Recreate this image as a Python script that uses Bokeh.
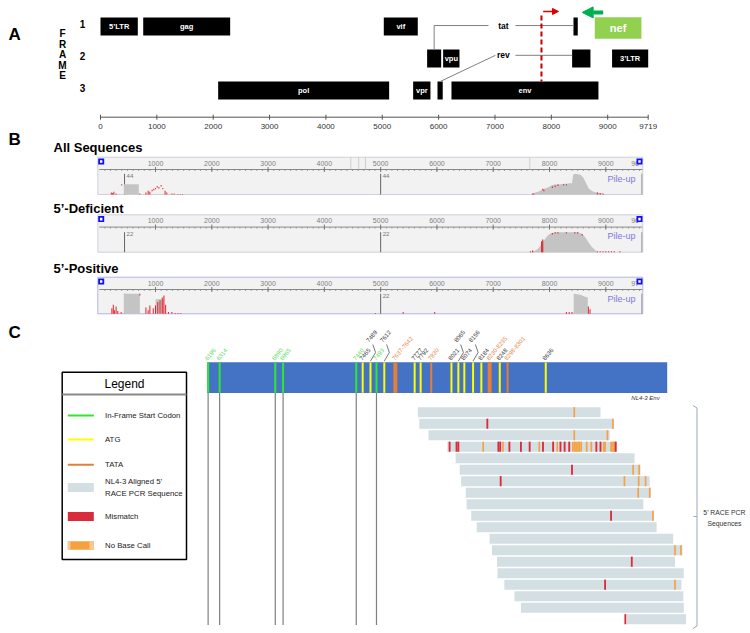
import math
from bokeh.plotting import figure
from bokeh.models import Range1d, Arrow, NormalHead
from bokeh.core.properties import value
from bokeh.embed import file_html
from bokeh.resources import INLINE

# ---------------- DATA ----------------
# Panel A: HIV-1 NL4-3 genome map (nt positions, reading frame)
gene_names = ["5’LTR", "gag", "vif", "pol", "vpr", "tat-1", "rev-1", "vpu", "env", "tat-2", "rev-2", "nef", "3’LTR"]
gene_text = ["5’LTR", "gag", "vif", "pol", "vpr", "", "", "vpu", "env", "", "", "nef", "3’LTR"]
gene_start = [0, 758, 5027, 2088, 5548, 5796, 5980, 6080, 6228, 8393, 8369, 8771, 9078]
gene_end = [662, 2301, 5630, 5122, 5855, 6045, 6073, 6370, 8836, 8469, 8694, 9599, 9719]
gene_frame = [1, 1, 1, 3, 3, 2, 3, 2, 3, 1, 2, 1, 2]
frames = [1, 2, 3]
genome_ticks = [0, 1000, 2000, 3000, 4000, 5000, 6000, 7000, 8000, 9000, 9719]
cut_site = 7825
fwd_primer = (7855, 8127)
rev_primer = (8920, 8547)

# Panel B: pile-up coverage (nt, depth)
ruler_ticks = [1000, 2000, 3000, 4000, 5000, 6000, 7000, 8000, 9000]
track_titles = ["All  Sequences", "5’-Deficient", "5’-Positive"]
track_max = [44, 22, 22]
track_end_label = ["96", "96", "97"]
cov_all_x = [437, 437, 703, 703]
cov_all_y = [0, 22, 22, 0]
cov_all_x2 = [7650, 7700, 7750, 7800, 7850, 7900, 7950, 8000, 8050, 8100, 8150, 8200, 8250, 8300, 8350, 8400, 8420, 8450, 8500, 8550, 8600, 8650, 8700, 8750, 8800, 8850, 8900, 8950, 9000]
cov_all_y2 = [0, 2, 4, 6, 9, 12, 14, 17, 20, 21, 22, 22, 23, 23, 24, 24, 42, 44, 43, 42, 36, 24, 12, 8, 5, 4, 3, 2, 0]
red_all_x = [215, 235, 260, 300, 400, 720, 830, 870, 900, 940, 970, 1000, 1030, 1060, 1100, 1130, 1170, 1200, 1290, 1330, 1400, 1440, 1480, 7700, 7720, 7880, 7900, 8050, 8100, 8150, 8250, 8300, 8850, 8900, 8950]
red_all_h = [4, 3, 6, 2, 22, 2, 4, 8, 6, 10, 12, 14, 18, 16, 20, 14, 8, 4, 2, 2, 1, 1, 1, 2, 2, 12, 10, 17, 19, 21, 22, 22, 4, 3, 2]
cov_def_x = [7650, 7700, 7750, 7800, 7850, 7900, 7950, 8000, 8050, 8100, 8500, 8550, 8600, 8650, 8700, 8750, 8800, 8850]
cov_def_y = [0, 1, 2, 4, 8, 13, 17, 20, 21, 22, 22, 21, 19, 15, 10, 6, 3, 0]
red_def_x = [7660, 7700, 7860, 7880, 8050, 8100, 8150, 8300, 8450, 8500, 8580, 8850, 8900, 8950, 9000, 9050, 9100, 9150, 9250]
red_def_h = [1, 2, 12, 14, 21, 22, 22, 22, 22, 22, 20, 1, 1, 1, 1, 1, 1, 1, 1]
cov_pos_x = [437, 437, 722, 722, 1002, 1002, 1148, 1148]
cov_pos_y = [0, 22, 22, 0, 0, 16, 16, 0]
cov_pos_x2 = [8430, 8430, 8550, 8620, 8680, 8680]
cov_pos_y2 = [0, 22, 21, 19, 18, 0]
red_pos_x = [225, 250, 270, 300, 330, 390, 722, 830, 870, 900, 960, 1000, 1040, 1080, 1120, 1150, 1180, 1230, 1290, 1350, 1400, 1450, 4908, 5400, 5960, 8300, 8350, 8400, 8690, 8720]
red_pos_h = [6, 10, 4, 8, 3, 2, 22, 7, 4, 9, 6, 9, 13, 15, 18, 20, 10, 2, 2, 1, 1, 1, 1, 2, 2, 2, 2, 2, 8, 5]
depth_marks = [450, 5000]

# Panel C: Env schematic (position along the Env bar, % of bar length)
site_label = ["6196", "6314", "6890", "6965", "7440", "7465", "7489", "7493", "7612", "7637-7642", "7777",
              "7792", "7830", "8021", "8065", "8074", "8156", "8184", "8230-8235", "8248", "8298-8301", "8636"]
site_type = ["start", "start", "start", "start", "start", "ATG", "ATG", "start", "ATG", "TATA", "ATG",
             "ATG", "TATA", "ATG", "ATG", "ATG", "ATG", "ATG", "TATA", "ATG", "TATA", "ATG"]
site_pos = [0.2, 2.7, 14.8, 16.5, 32.4, 33.8, 35.5, 36.8, 38.5, 40.9, 45.1,
            46.4, 48.7, 53.1, 54.6, 55.9, 57.8, 59.6, 61.4, 63.6, 65.3, 73.6]
raised_labels = ["7489", "7612", "8065", "8156"]

seq_start = [45.8, 46.1, 48.1, 52.2, 54.0, 54.9, 55.2, 56.2, 56.4, 57.4, 58.6, 61.4, 61.9, 63.0, 63.1, 64.6, 66.8, 68.2, 91.2]
seq_end = [85.5, 88.4, 87.5, 89.1, 92.9, 94.2, 96.2, 96.4, 94.8, 97.1, 97.7, 101.3, 103.3, 101.7, 103.6, 103.1, 103.5, 103.6, 104.1]
mm_row = [2, 6, 7, 10, 14, 16, 19] + [4] * 16
mm_pos = [60.9, 79.3, 63.8, 87.8, 92.3, 86.5, 90.9,
          52.7, 54.2, 54.6, 63.3, 63.7, 65.7, 68.2, 70.1, 73.0, 75.2, 76.8, 77.7, 78.7, 84.6, 85.5, 88.8]
nc_row = [1, 2, 3, 3, 6, 6, 7, 7, 7, 8, 8, 10, 13, 13, 16] + [4] * 17
nc_pos = [79.8, 88.2, 79.8, 87.0, 92.6, 93.9, 90.7, 93.8, 95.3, 93.7, 96.2, 96.9, 101.7, 103.0, 101.7,
          60.0, 64.3, 72.2, 76.1, 79.5, 79.9, 80.2, 80.6, 80.9, 81.3, 82.5, 83.5, 86.2, 86.5, 87.8, 88.2, 88.5]
legend_labels = ["In-Frame Start Codon", "ATG", "TATA", "NL4-3 Aligned 5’\nRACE PCR Sequence", "Mismatch", "No Base Call"]

# ---------------- STYLE ----------------
FONT = value("Liberation Sans")
GREEN, YELLOW, ORANGE = "#2ee82e", "#ffff00", "#e67e36"
SEQ, RED, NOCALL = "#d3dfe2", "#d92b3a", "#f5a142"
TYPE_COLOR = {"start": GREEN, "ATG": YELLOW, "TATA": ORANGE}
LABEL_COLOR = {"start": "#5ad85a", "ATG": "#333333", "TATA": "#e08848"}

W, H = 750, 633
X0, Y0 = 0, 0
p = figure(width=W, height=H, output_backend="svg", toolbar_location=None,
           x_range=Range1d(X0, X0 + W), y_range=Range1d(Y0 + H, Y0),
           x_axis_type=None, y_axis_type=None, min_border=0)
p.grid.visible = False
p.outline_line_color = None

xr, yr = {}, {}
def xmap(name, v1, px1, v2, px2):
    k = (v2 - v1) / (px2 - px1)
    xr[name] = Range1d(v1 + (X0 - px1) * k, v1 + (X0 + W - px1) * k)
def ymap(name, v1, py1, v2, py2):
    k = (v2 - v1) / (py2 - py1)
    yr[name] = Range1d(v1 + (Y0 + H - py1) * k, v1 + (Y0 - py1) * k)

xmap("gA", 0, 100, 9719, 647.7)
ymap("fA", 1, 26, 3, 90)
xmap("gB", 1000, 155, 9000, 605.3)
track_top = [156.7, 214.3, 276.7]
track_bot = [194, 251.7, 313.3]
track_peak = [173.3, 231.7, 293.3]
for i in range(3):
    ymap(f"c{i}", 0, track_bot[i], track_max[i], track_peak[i])
xmap("pC", 0, 206.7, 100, 666.7)
ymap("rC", 1, 411.7, 19, 618.7)
p.extra_x_ranges = xr
p.extra_y_ranges = yr

def txt(x, y, t, size, color="black", style="normal", align="left", baseline="middle", **kw):
    p.text(x=[x], y=[y], text=[t], text_font=FONT, text_font_size=f"{size}px", text_color=color,
           text_font_style=style, text_align=align, text_baseline=baseline, **kw)

# ---------------- PANEL A ----------------
txt(8, 34, "A", 17, style="bold")
for i, ch in enumerate("FRAME"):
    txt(62, 33 + i * 10.5, ch, 10, style="bold", align="center")
p.text(x=[82] * 3, y=frames, text=[str(f) for f in frames], y_range_name="fA", y_offset=-3,
       text_font=FONT, text_font_size="10px", text_font_style="bold", text_align="center", text_baseline="middle")

reg = [i for i, g in enumerate(gene_names) if g != "nef"]
p.quad(left=[gene_start[i] for i in reg], right=[gene_end[i] for i in reg],
       top=[gene_frame[i] - 0.28 for i in reg], bottom=[gene_frame[i] + 0.28 for i in reg],
       x_range_name="gA", y_range_name="fA", fill_color="black", line_color=None)
inef = gene_names.index("nef")
p.quad(left=[gene_start[inef]], right=[gene_end[inef]], top=[gene_frame[inef] - 0.29],
       bottom=[gene_frame[inef] + 0.38], x_range_name="gA", y_range_name="fA",
       fill_color="#92d050", line_color=None)
lab = [i for i in reg if gene_text[i]]
p.text(x=[(gene_start[i] + gene_end[i]) / 2 for i in lab], y=[gene_frame[i] for i in lab],
       text=[gene_text[i] for i in lab], x_range_name="gA", y_range_name="fA",
       text_font=FONT, text_font_size="7.5px", text_font_style="bold", text_color="white",
       text_align="center", text_baseline="middle")
p.text(x=[(gene_start[inef] + gene_end[inef]) / 2], y=[gene_frame[inef] + 0.05], text=["nef"],
       x_range_name="gA", y_range_name="fA", text_font=FONT, text_font_size="11px",
       text_font_style="bold", text_color="white", text_align="center", text_baseline="middle")

# tat / rev connectors
t1, t2 = gene_names.index("tat-1"), gene_names.index("tat-2")
r1, r2 = gene_names.index("rev-1"), gene_names.index("rev-2")
lab_x = 7150
tat_y, rev_y = 0.97, 1.9
tx1 = (gene_start[t1] + gene_end[t1]) / 2
rx1 = (gene_start[r1] + gene_end[r1]) / 2
p.multi_line(xs=[[tx1, tx1, lab_x - 266], [lab_x + 213, gene_start[t2]],
                 [rx1, lab_x - 142], [lab_x + 213, gene_start[r2]]],
             ys=[[gene_frame[t1] - 0.28, tat_y, tat_y], [tat_y, tat_y],
                 [gene_frame[r1] - 0.28, rev_y], [rev_y, rev_y]],
             x_range_name="gA", y_range_name="fA", line_color="#808080", line_width=1)
p.text(x=[lab_x, lab_x], y=[tat_y, rev_y], text=["tat", "rev"], x_range_name="gA", y_range_name="fA",
       text_font=FONT, text_font_size="8.5px", text_font_style="bold", text_align="center",
       text_baseline="middle")
# cut site and primers
p.segment(x0=[cut_site], y0=[0.66], x1=[cut_site], y1=[3 - 0.28], x_range_name="gA", y_range_name="fA",
          line_color="#c00000", line_width=2, line_dash="5 3")
p.add_layout(Arrow(end=NormalHead(size=6, fill_color="#e00000", line_color="#e00000"),
                   x_start=fwd_primer[0], x_end=fwd_primer[1], y_start=0.53, y_end=0.53,
                   x_range_name="gA", y_range_name="fA", line_color="#e00000", line_width=1.5))
p.add_layout(Arrow(end=NormalHead(size=11, fill_color="#00b050", line_color="#00b050"),
                   x_start=rev_primer[0], x_end=rev_primer[1], y_start=0.56, y_end=0.56,
                   x_range_name="gA", y_range_name="fA", line_color="#00b050", line_width=4))
# genome axis
ay = 116.7
p.segment(x0=[genome_ticks[0]], y0=[ay], x1=[genome_ticks[-1]], y1=[ay], x_range_name="gA",
          line_color="#555555", line_width=1)
p.segment(x0=genome_ticks, y0=[ay - 2.5] * len(genome_ticks), x1=genome_ticks, y1=[ay + 2.5] * len(genome_ticks),
          x_range_name="gA", line_color="#555555", line_width=1)
p.text(x=genome_ticks, y=[ay + 9.5] * len(genome_ticks), text=[str(t) for t in genome_ticks],
       x_range_name="gA", text_font=FONT, text_font_size="8px", text_color="#333333",
       text_align="center", text_baseline="middle")

# ---------------- PANEL B ----------------
txt(8, 139, "B", 17, style="bold")
title_y = [146.7, 208, 267.7]
border = ["#d0d0dc", "#d0d0dc", "#b4b4e4"]
minor = list(range(100, 9700, 100))
for i in range(3):
    top, bot = track_top[i], track_bot[i]
    txt(53, title_y[i], track_titles[i], 13, style="bold")
    p.quad(left=[97.3], right=[642.3], top=[top], bottom=[bot], fill_color="#f2f2f2",
           line_color=border[i], line_width=1)
    ry = top + 12.3
    p.segment(x0=[0], y0=[ry], x1=[9650], y1=[ry], x_range_name="gB", line_color="#888888", line_width=1)
    p.segment(x0=minor, y0=[ry] * len(minor), x1=minor, y1=[ry + 1.5] * len(minor), x_range_name="gB",
              line_color="#888888", line_width=0.8)
    p.segment(x0=ruler_ticks, y0=[ry - 2.5] * len(ruler_ticks), x1=ruler_ticks, y1=[ry + 2.5] * len(ruler_ticks),
              x_range_name="gB", line_color="#777777", line_width=1)
    p.text(x=ruler_ticks, y=[top + 5.8] * len(ruler_ticks), text=[str(t) for t in ruler_ticks],
           x_range_name="gB", text_font=FONT, text_font_size="7px", text_color="#808080",
           text_align="center", text_baseline="middle")
    p.text(x=[9450], y=[top + 5.8], text=[track_end_label[i]], x_range_name="gB", text_font=FONT,
           text_font_size="7px", text_color="#808080", text_align="left", text_baseline="middle")
    # depth markers
    p.segment(x0=depth_marks, y0=[track_max[i]] * 2, x1=depth_marks, y1=[0, 0], x_range_name="gB",
              y_range_name=f"c{i}", line_color="#666666", line_width=1)
    p.text(x=depth_marks, y=[track_max[i]] * 2, text=[str(track_max[i])] * 2, x_range_name="gB",
           y_range_name=f"c{i}", x_offset=2, y_offset=2, text_font=FONT, text_font_size="6px",
           text_color="#777777", text_align="left", text_baseline="middle")
    p.segment(x0=[9640], y0=[track_max[i]], x1=[9640], y1=[0], x_range_name="gB", y_range_name=f"c{i}",
              line_color="#999999", line_width=1)
    txt(621, top + 21.5, "Pile-up", 9, color="#7b7bdc", align="center")
    # blue end markers
    for bx in (100.7, 639):
        p.quad(left=[bx - 3], right=[bx + 3], top=[top + 1.3], bottom=[top + 7.3], fill_color="#1010f0",
               line_color=None)
        p.quad(left=[bx - 1.2], right=[bx + 1.2], top=[top + 3], bottom=[top + 5.6], fill_color="white",
               line_color=None)

p.segment(x0=[4470, 4610, 4730, 7650], y0=[track_top[0]] * 4, x1=[4470, 4610, 4730, 7650],
          y1=[track_top[0] + 12] * 4, x_range_name="gB", line_color="#cfcfcf", line_width=1)

GRAY = "#c4c4c4"
p.varea(x=cov_all_x, y1=0, y2=cov_all_y, x_range_name="gB", y_range_name="c0", fill_color=GRAY)
p.varea(x=cov_all_x2, y1=0, y2=cov_all_y2, x_range_name="gB", y_range_name="c0", fill_color=GRAY)
p.vbar(x=red_all_x, top=red_all_h, bottom=[max(h - 3, 0) if h > 8 else 0 for h in red_all_h], width=18,
       x_range_name="gB", y_range_name="c0", fill_color="#e8202a", line_color=None)
p.varea(x=cov_def_x, y1=0, y2=cov_def_y, x_range_name="gB", y_range_name="c1", fill_color=GRAY)
p.vbar(x=red_def_x, top=red_def_h, bottom=[max(h - 1.5, 0) if h > 14 else 0 for h in red_def_h], width=20,
       x_range_name="gB", y_range_name="c1", fill_color="#e8202a", line_color=None)
p.varea(x=cov_pos_x, y1=0, y2=cov_pos_y, x_range_name="gB", y_range_name="c2", fill_color=GRAY)
p.varea(x=cov_pos_x2, y1=0, y2=cov_pos_y2, x_range_name="gB", y_range_name="c2", fill_color=GRAY)
p.vbar(x=red_pos_x, top=red_pos_h, bottom=[max(h - 2, 0) if h > 20 else 0 for h in red_pos_h], width=18,
       x_range_name="gB", y_range_name="c2", fill_color="#e8202a", line_color=None)

# ---------------- PANEL C ----------------
txt(8, 332, "C", 17, style="bold")
# legend box
p.quad(left=[61.7], right=[186], top=[371.7], bottom=[559], fill_color="white", line_color="black", line_width=1.5)
p.segment(x0=[61.7], y0=[394], x1=[186], y1=[394], line_color="#8a8a8a", line_width=2)
txt(124, 383, "Legend", 12, align="center")
leg_y = [415, 439, 464.3, 487, 516, 545]
for k, c in enumerate([GREEN, YELLOW, ORANGE]):
    p.segment(x0=[67.3], y0=[leg_y[k]], x1=[93.3], y1=[leg_y[k]], line_color=c, line_width=2)
for k, c in zip([3, 4], [SEQ, RED]):
    p.quad(left=[67.3], right=[93.3], top=[leg_y[k] - 4.5], bottom=[leg_y[k] + 4.5], fill_color=c, line_color=None)
p.quad(left=[67.3], right=[93.3], top=[leg_y[5] - 4.2], bottom=[leg_y[5] + 4.2], fill_color=NOCALL, line_color=None)
p.quad(left=[67.3, 89], right=[70, 93.3], top=[leg_y[5] - 4.2] * 2, bottom=[leg_y[5] + 4.2] * 2,
       fill_color="#f8c890", line_color=None)
p.text(x=[104.5] * 6, y=leg_y, text=legend_labels, text_font=FONT, text_font_size="7.8px",
       text_color="#222222", text_align="left", text_baseline="middle", text_line_height=1.35)

# Env bar
p.quad(left=[0], right=[100], top=[361.7], bottom=[392.5], x_range_name="pC", fill_color="#4472c4", line_color=None)
for t in ["start", "ATG", "TATA"]:
    idx = [i for i, s in enumerate(site_type) if s == t]
    p.segment(x0=[site_pos[i] for i in idx], y0=[362] * len(idx), x1=[site_pos[i] for i in idx],
              y1=[392.3] * len(idx), x_range_name="pC", line_color=TYPE_COLOR[t],
              line_width=[4 if "-" in site_label[i] and site_label[i] != "8298-8301" else 2 for i in idx])
txt(645, 397.5, "NL4-3 Env", 6, color="#333333", style="italic", align="center")
ang = math.radians(50)
for t in ["start", "ATG", "TATA"]:
    idx = [i for i, s in enumerate(site_type) if s == t and site_label[i] not in raised_labels]
    p.text(x=[site_pos[i] for i in idx], y=[359] * len(idx), text=[site_label[i] for i in idx],
           x_range_name="pC", angle=ang, x_offset=-2, text_font=FONT, text_font_size="6px",
           text_color=LABEL_COLOR[t], text_align="left", text_baseline="middle")
ridx = [site_label.index(r) for r in raised_labels]
p.text(x=[site_pos[i] for i in ridx], y=[341] * len(ridx), text=raised_labels, x_range_name="pC",
       angle=ang, x_offset=-3, text_font=FONT, text_font_size="6px", text_color="#333333",
       text_align="left", text_baseline="middle")
p.multi_line(xs=[[site_pos[i], site_pos[i] + 1.1, site_pos[i] + 0.5] for i in ridx],
             ys=[[360.5, 352, 344] for _ in ridx], x_range_name="pC", line_color="#555555", line_width=0.8)

# dotted guides from in-frame start codons
sidx = [i for i, s in enumerate(site_type) if s == "start"]
p.segment(x0=[site_pos[i] for i in sidx], y0=[393] * len(sidx), x1=[site_pos[i] for i in sidx],
          y1=[624] * len(sidx), x_range_name="pC", line_color="black", line_width=1.2, line_dash="1 1")

# 5' RACE sequences
rows = list(range(1, len(seq_start) + 1))
p.quad(left=seq_start, right=seq_end, top=[r - 0.44 for r in rows], bottom=[r + 0.44 for r in rows],
       x_range_name="pC", y_range_name="rC", fill_color=SEQ, line_color=None)
p.quad(left=[x - 0.18 for x in nc_pos], right=[x + 0.18 for x in nc_pos], top=[r - 0.44 for r in nc_row],
       bottom=[r + 0.44 for r in nc_row], x_range_name="pC", y_range_name="rC", fill_color=NOCALL, line_color=None)
p.quad(left=[x - 0.2 for x in mm_pos], right=[x + 0.2 for x in mm_pos], top=[r - 0.44 for r in mm_row],
       bottom=[r + 0.44 for r in mm_row], x_range_name="pC", y_range_name="rC", fill_color=RED, line_color=None)

# bracket
p.multi_line(xs=[[692.5, 696.5, 696.5, 692.5], [696.5, 693]], ys=[[405, 407.5, 625.5, 628], [516, 516]],
             line_color="#9aa6bf", line_width=1)
p.text(x=[724, 724], y=[512, 522.5], text=["5’ RACE PCR", "Sequences"], text_font=FONT,
       text_font_size="6.8px", text_color="#333333", text_align="center", text_baseline="middle")

open("out.html", "w").write(file_html(p, INLINE))
